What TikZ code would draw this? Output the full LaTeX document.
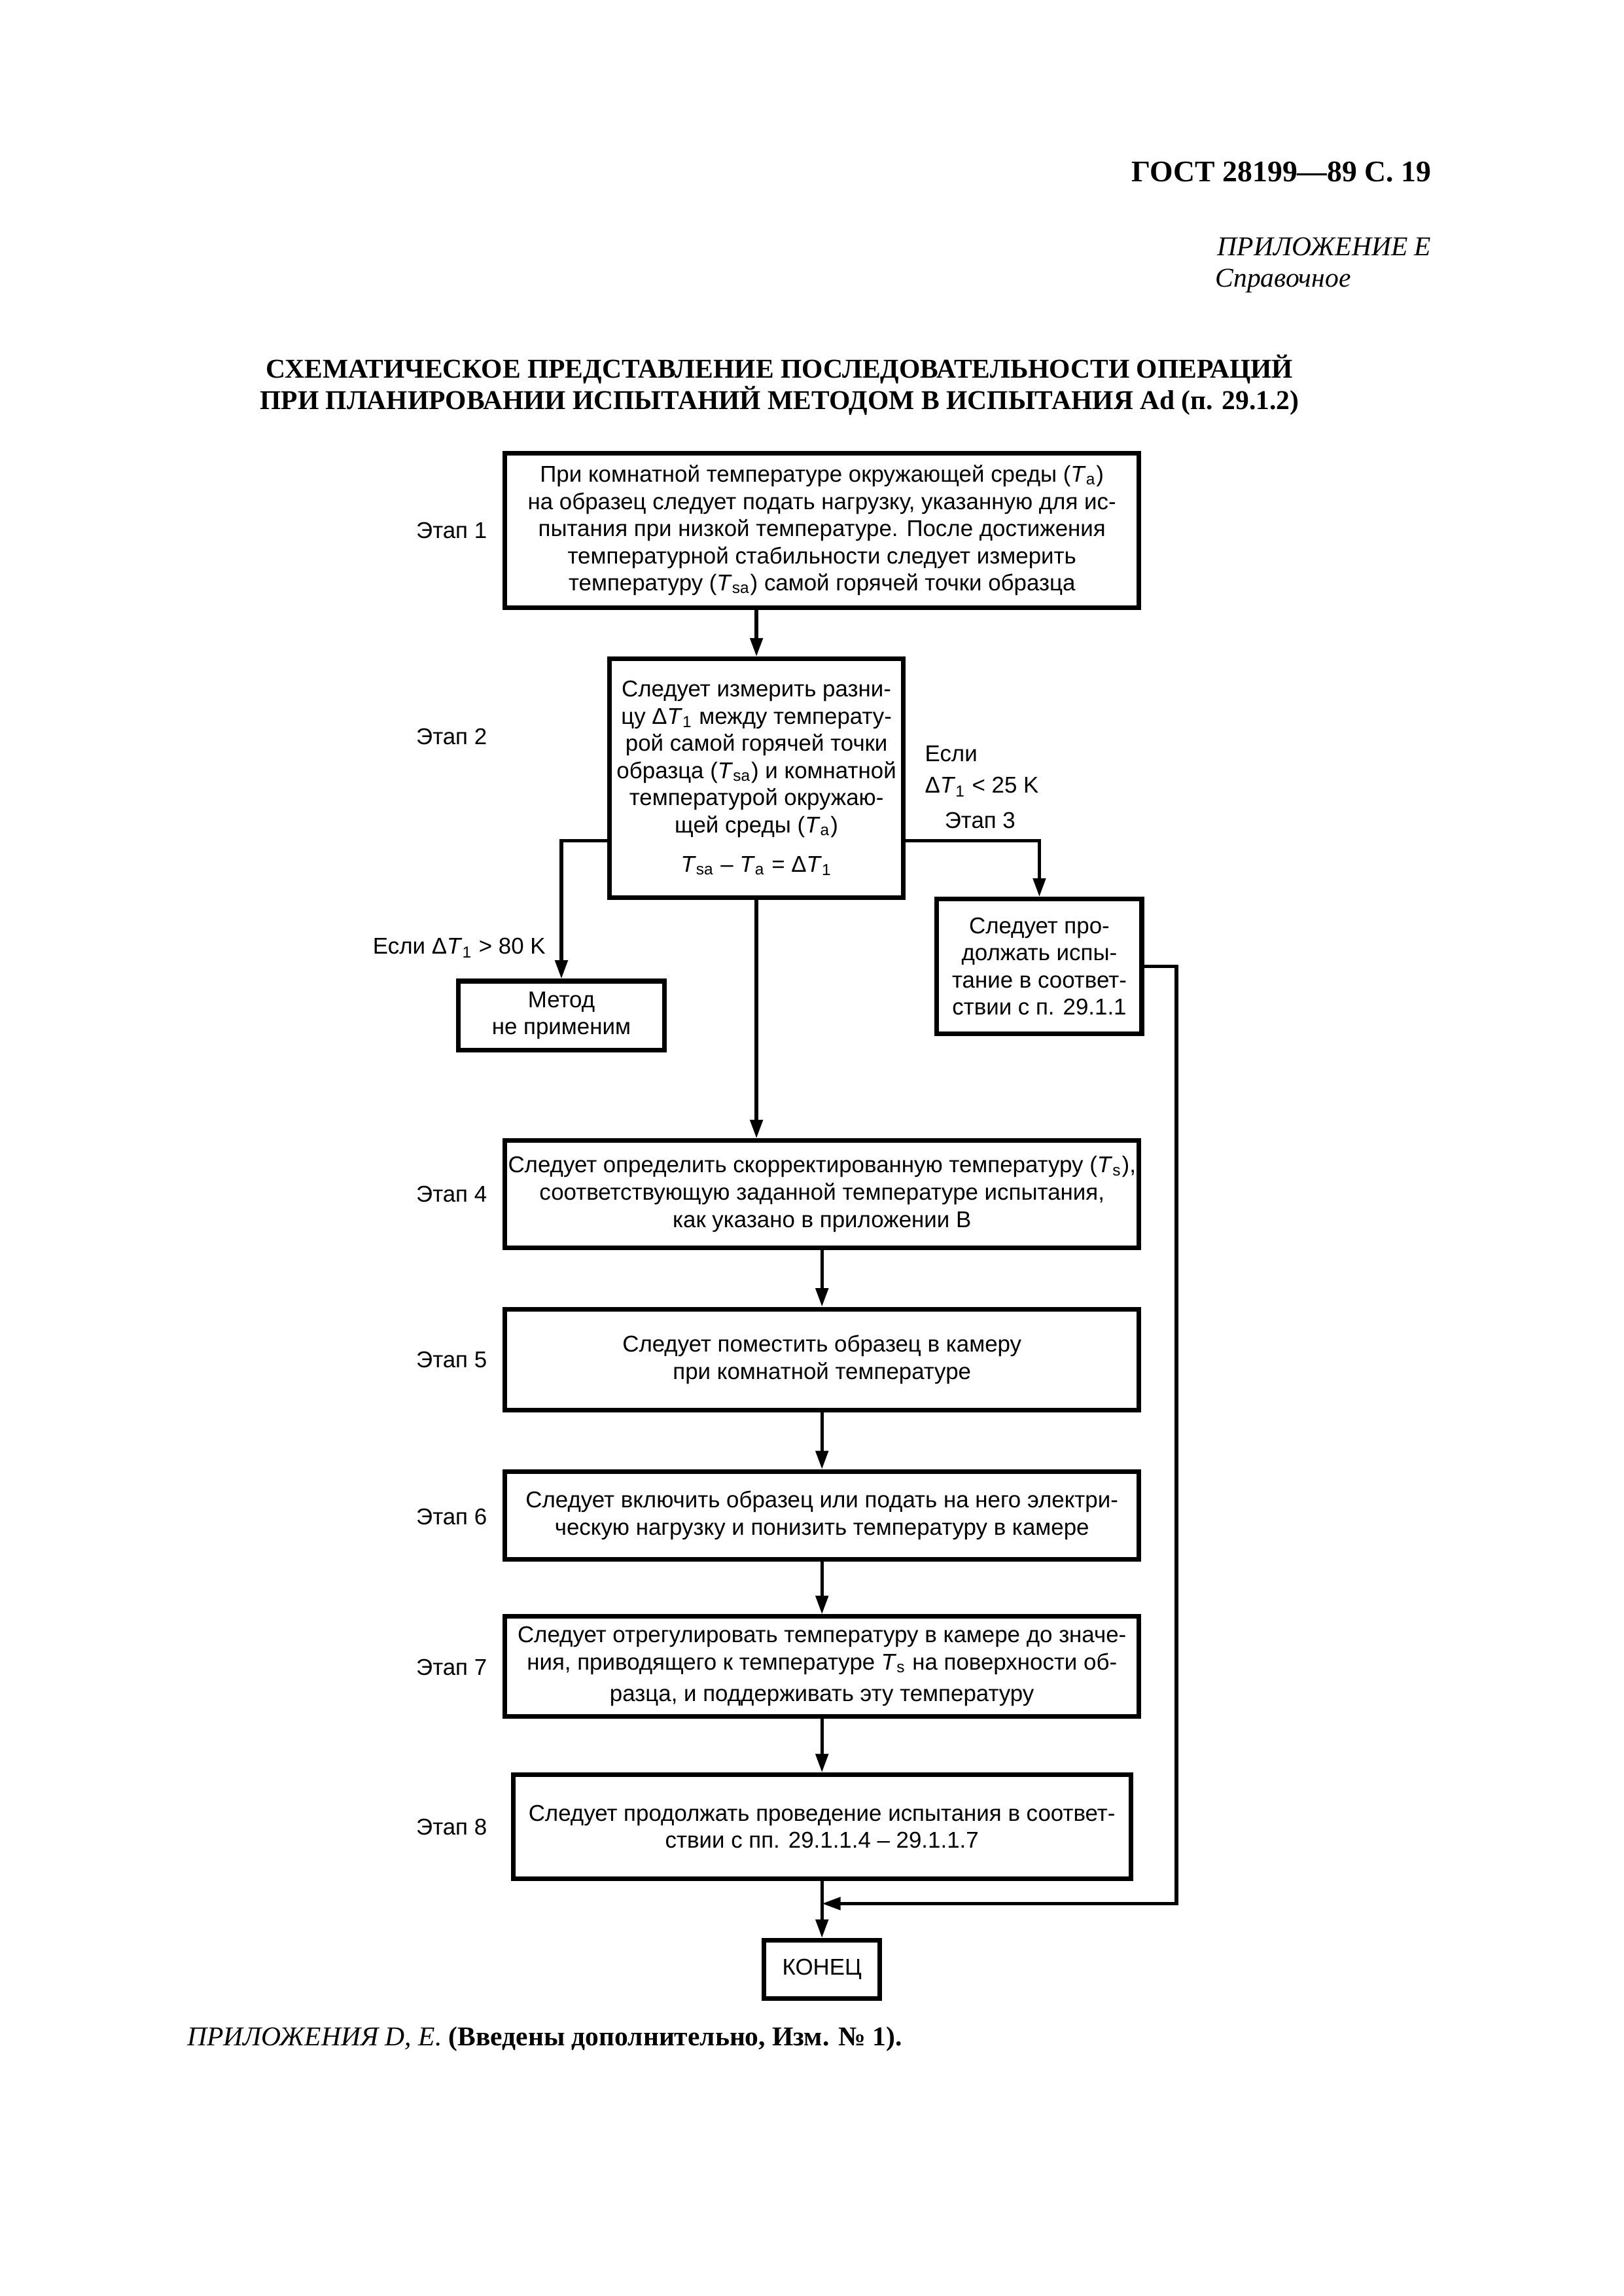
\documentclass[tikz,border=0pt]{standalone}
\usepackage{fontspec}
\setmainfont{Liberation Sans}
\newfontfamily\serif{Liberation Serif}
\usetikzlibrary{arrows.meta}
\newcommand{\Tv}[1]{\textit{T}\textsubscript{#1}}
\begin{document}
\begin{tikzpicture}[x=0.18936mm, y=-0.18936mm,
  box/.style={draw, line width=0.6mm, inner sep=0pt, align=center, font=\fontsize{8.4}{10}\selectfont},
  lbl/.style={inner sep=0pt, font=\fontsize{8.4}{10}\selectfont},
  conn/.style={line width=0.45mm},
  arr/.style={conn, -{Triangle[length=2.4mm,width=1.6mm]}},
  hd/.style={inner sep=0pt}
]
\useasboundingbox[fill=white] (0,0) rectangle (1109,1568);

% header
\node[hd, anchor=base east, font=\serif\bfseries\fontsize{11}{13}\selectfont] (hdr) at (978,124) {ГОСТ 28199—89 С. 19};
\node[hd, anchor=base east, font=\serif\itshape\fontsize{10}{12}\selectfont] (app) at (978,174.4) {ПРИЛОЖЕНИЕ Е};
\node[hd, anchor=base west, font=\serif\itshape\fontsize{10}{12}\selectfont] (ref) at (830,196) {Справочное};
\node[hd, anchor=base, font=\serif\bfseries\fontsize{10}{12}\selectfont] (t1) at (532.5,258) {СХЕМАТИЧЕСКОЕ ПРЕДСТАВЛЕНИЕ ПОСЛЕДОВАТЕЛЬНОСТИ ОПЕРАЦИЙ};
\node[hd, anchor=base, font=\serif\bfseries\fontsize{10}{12}\selectfont] (t2) at (532.5,279.5) {ПРИ ПЛАНИРОВАНИИ ИСПЫТАНИЙ МЕТОДОМ В ИСПЫТАНИЯ Ad (п. 29.1.2)};

% boxes
\node[box, minimum width=82.0mm, minimum height=19.98mm] (b1) at (561.5,362.25)
 {При комнатной температуре окружающей среды (\Tv{a})\\
  на образец следует подать нагрузку, указанную для ис-\\
  пытания при низкой температуре. После достижения\\
  температурной стабильности следует измерить\\
  температуру (\Tv{sa}) самой горячей точки образца};
\node[box, minimum width=37.97mm, minimum height=30.87mm] (b2) at (516.75,531.5)
 {Следует измерить разни-\\
  цу Δ\Tv{1} между температу-\\
  рой самой горячей точки\\
  образца (\Tv{sa}) и комнатной\\
  температурой окружаю-\\
  щей среды (\Tv{a})\\[4.5pt]
  \Tv{sa} – \Tv{a} = Δ\Tv{1}};
\node[box, minimum width=26.5mm, minimum height=17.42mm] (b3) at (710,660)
 {Следует про-\\должать испы-\\тание в соответ-\\ствии с п. 29.1.1};
\node[box, minimum width=26.7mm, minimum height=8.9mm] (bm) at (383.5,693.5)
 {Метод\\не применим};
\node[box, minimum width=82.0mm, minimum height=13.82mm] (b4) at (561.5,815.5)
 {Следует определить скорректированную температуру (\Tv{s}),\\
  соответствующую заданной температуре испытания,\\
  как указано в приложении В};
\node[box, minimum width=82.0mm, minimum height=13.07mm] (b5) at (561.5,928.5)
 {Следует поместить образец в камеру\\при комнатной температуре};
\node[box, minimum width=82.0mm, minimum height=11.36mm] (b6) at (561.5,1035)
 {Следует включить образец или подать на него электри-\\
  ческую нагрузку и понизить температуру в камере};
\node[box, minimum width=82.0mm, minimum height=12.88mm] (b7) at (561.5,1138)
 {Следует отрегулировать температуру в камере до значе-\\
  ния, приводящего к температуре \Tv{s} на поверхности об-\\[1.5pt]
  разца, и поддерживать эту температуру};
\node[box, minimum width=79.9mm, minimum height=13.44mm] (b8) at (561.5,1247.5)
 {Следует продолжать проведение испытания в соответ-\\
  ствии с пп. 29.1.1.4 – 29.1.1.7};
\node[box, minimum width=14.96mm, minimum height=7.57mm] (kon) at (561.5,1345) {КОНЕЦ};

% stage labels
\node[lbl, anchor=base] (s1) at (308.5,367.8) {Этап 1};
\node[lbl, anchor=base] (s2) at (308.5,508.6) {Этап 2};
\node[lbl, anchor=base] (s4) at (308.5,821) {Этап 4};
\node[lbl, anchor=base] (s5) at (308.5,934) {Этап 5};
\node[lbl, anchor=base] (s6) at (308.5,1041) {Этап 6};
\node[lbl, anchor=base] (s7) at (308.5,1144) {Этап 7};
\node[lbl, anchor=base] (s8) at (308.5,1253) {Этап 8};
\node[lbl, anchor=base west] (c25a) at (631.5,520) {Если};
\node[lbl, anchor=base west] (c25b) at (631.5,541.6) {Δ\Tv{1} < 25 K};
\node[lbl, anchor=base] (s3) at (669.5,565.6) {Этап 3};
\node[lbl, anchor=base east] (c80) at (373,651.6) {Если Δ\Tv{1} > 80 K};

% connectors
\coordinate (rc) at (803.7,1300);
\coordinate (join) at (561.5,1300);
\draw[arr] (b2.north |- b1.south) -- (b2.north);
\draw[arr] (b2.south) -- (b2.south |- b4.north);
\draw[arr] ([yshift=7.65mm]b2.south east) -| (b3.north);
\draw[arr] ([yshift=7.65mm]b2.south west) -| (bm.north);
\draw[arr] (b4.south) -- (b5.north);
\draw[arr] (b5.south) -- (b6.north);
\draw[arr] (b6.south) -- (b7.north);
\draw[arr] (b7.south) -- (b8.north);
\draw[arr] (b8.south) -- (kon.north);
\draw[arr] (b3.east) -| (rc) -- (join);

% footer
\node[hd, anchor=base west, font=\serif\fontsize{10}{12}\selectfont] (ft) at (127.5,1397)
 {\textit{ПРИЛОЖЕНИЯ D, E.} \textbf{(Введены дополнительно, Изм. № 1).}};
\end{tikzpicture}
\end{document}
